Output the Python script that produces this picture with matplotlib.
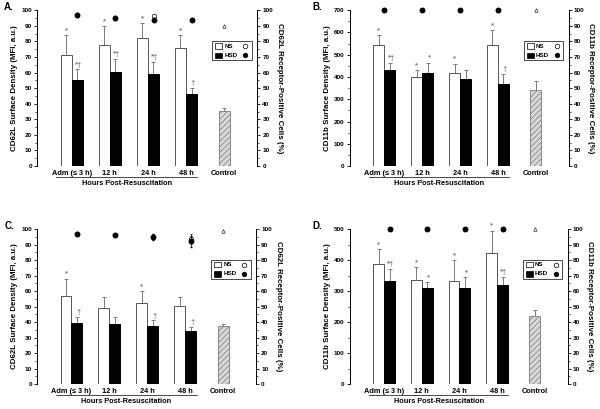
import matplotlib
matplotlib.use("Agg")
import matplotlib.pyplot as plt
from matplotlib.patches import Rectangle
from matplotlib.lines import Line2D
from matplotlib.ticker import MultipleLocator
import numpy as np

plt.rcParams['font.family'] = ['Liberation Sans', 'DejaVu Sans']
plt.rcParams['font.weight'] = 'bold'
plt.rcParams['hatch.color'] = '#777777'
plt.rcParams['hatch.linewidth'] = 0.6

groups = ["Adm (\u2264 3 h)", "12 h", "24 h", "48 h", "Control"]
xlabel = "Hours Post-Resuscitation"

# Panel A
A_ns = [71.5, 78, 82, 76]
A_ns_err = [12.5, 12, 10, 8]
A_hsd = [55, 60.5, 59, 46]
A_hsd_err = [7, 8.5, 8, 4]
A_ctrl = 35.5
A_ctrl_err = 1.5
A_ns_pct = [97, 95, 96, 94]
A_ns_pct_err = [1, 1, 1, 1]
A_hsd_pct = [97, 95, 94, 94]
A_hsd_pct_err = [1.5, 1, 1, 1]
A_ctrl_pct = 90
A_ns_sig = ["*", "*", "*", "*"]
A_hsd_sig = ["*\u2020", "*\u2020", "*\u2020", "\u2020"]

# Panel B
B_ns = [543, 398, 420, 543]
B_ns_err = [47, 32, 40, 67]
B_hsd = [433, 420, 392, 368]
B_hsd_err = [32, 45, 38, 47]
B_ctrl = 340
B_ctrl_err = 40
B_ns_pct = [100, 100, 100, 100]
B_ns_pct_err = [0, 0, 0, 0]
B_hsd_pct = [100, 100, 100, 100]
B_hsd_pct_err = [0, 0, 0, 0]
B_ctrl_pct = 100
B_ns_sig = ["*", "*", "*", "*"]
B_hsd_sig = ["*\u2020", "*", "", "\u2020"]

# Panel C
C_ns = [57, 49, 52.5, 50.5]
C_ns_err = [11, 7, 7.5, 5.5]
C_hsd = [39.5, 38.5, 37.5, 34.5]
C_hsd_err = [4, 4.5, 3.5, 2.5]
C_ctrl = 37.5
C_ctrl_err = 1
C_ns_pct = [97, 96, 95, 93.5]
C_ns_pct_err = [0.8, 0.8, 1.5, 3]
C_hsd_pct = [97, 96, 95, 92]
C_hsd_pct_err = [0.8, 0.8, 2, 3.5]
C_ctrl_pct = 99
C_ns_sig = ["*", "", "*", ""]
C_hsd_sig = ["\u2020", "", "\u2020", "\u2020"]

# Panel D
D_ns = [388, 337, 331, 423]
D_ns_err = [47, 41, 69, 72]
D_hsd = [334, 310, 311, 319]
D_hsd_err = [38, 20, 34, 26]
D_ctrl = 221
D_ctrl_err = 19
D_ns_pct = [100, 100, 100, 100]
D_ns_pct_err = [0, 0, 0, 0]
D_hsd_pct = [100, 100, 100, 100]
D_hsd_pct_err = [0, 0, 0, 0]
D_ctrl_pct = 100
D_ns_sig = ["*", "*", "*", "*"]
D_hsd_sig = ["*\u2020", "*", "*", "*\u2020"]

fig = plt.figure(figsize=(6.0, 4.09), dpi=100)

TICK_FS = 4.6
LAB_FS = 5.7
W = 0.29
GRAY = '#7a7a7a'


def panel(rect, letter, ymax, ymajor, yminor, ylab, rlab,
          ns, ns_err, hsd, hsd_err, ctrl, ctrl_err,
          ns_pct, ns_pct_err, hsd_pct, hsd_pct_err, ctrl_pct,
          ns_sig, hsd_sig, dot_off, letter_x):
    ax = fig.add_axes(rect)
    x = np.arange(4)
    ax.bar(x - W / 2, ns, W, color='white', edgecolor='#555555', lw=0.7, zorder=2)
    ax.bar(x + W / 2, hsd, W, color='black', edgecolor='black', lw=0.7, zorder=2)
    ax.bar([4], [ctrl], W, color='#d9d9d9', edgecolor='#888888', hatch='//////', lw=0.7, zorder=2)
    ek = dict(fmt='none', ecolor=GRAY, elinewidth=0.7, capsize=1.2, capthick=0.7, zorder=1)
    ax.errorbar(x - W / 2, ns, yerr=[np.zeros(4), ns_err], **ek)
    ax.errorbar(x + W / 2, hsd, yerr=[np.zeros(4), hsd_err], **ek)
    ax.errorbar([4], [ctrl], yerr=[[0], [ctrl_err]], **ek)
    pad = ymax * 0.006
    for i in range(4):
        if ns_sig[i]:
            ax.text(x[i] - W / 2, ns[i] + ns_err[i] + pad, ns_sig[i], ha='center', va='bottom',
                    fontsize=5.6, color=GRAY)
        if hsd_sig[i]:
            ax.text(x[i] + W / 2 + 0.04, hsd[i] + hsd_err[i] + pad, hsd_sig[i], ha='center', va='bottom',
                    fontsize=5.6, color=GRAY)
    ax.set_xlim(-0.91, 4.87)
    ax.set_ylim(0, ymax)
    ax.yaxis.set_major_locator(MultipleLocator(ymajor))
    ax.yaxis.set_minor_locator(MultipleLocator(yminor))
    ax.tick_params(axis='y', which='major', labelsize=TICK_FS, length=2.2, width=0.6, pad=1.5)
    ax.tick_params(axis='y', which='minor', length=1.2, width=0.5)
    ax.set_xticks(range(5))
    ax.set_xticklabels(groups, fontsize=5.3, fontweight='bold')
    ax.tick_params(axis='x', length=0, pad=2.5)
    for s in ['top', 'bottom']:
        ax.spines[s].set_visible(False)
    ax.spines['left'].set_linewidth(0.7)
    ax.spines['right'].set_visible(False)
    ax.set_ylabel(ylab, fontsize=LAB_FS, fontweight='bold', labelpad=2)
    # right axis
    ax2 = ax.twinx()
    ax2.set_ylim(0, 100)
    ax2.yaxis.set_major_locator(MultipleLocator(10))
    ax2.yaxis.set_minor_locator(MultipleLocator(5))
    ax2.tick_params(axis='y', which='major', labelsize=TICK_FS, length=2.2, width=0.6, pad=1.5)
    ax2.tick_params(axis='y', which='minor', length=1.2, width=0.5)
    for s in ['top', 'bottom', 'left']:
        ax2.spines[s].set_visible(False)
    ax2.spines['right'].set_linewidth(0.7)
    ax2.set_ylabel(rlab, fontsize=LAB_FS, fontweight='bold', rotation=270, labelpad=7)
    xd = x + dot_off
    ax2.errorbar(xd, ns_pct, yerr=ns_pct_err, fmt='o', ms=3.2, mfc='white', mec='black',
                 mew=0.5, ecolor='black', elinewidth=0.5, capsize=1, clip_on=False, zorder=3)
    ax2.errorbar(xd, hsd_pct, yerr=hsd_pct_err, fmt='o', ms=3.2, mfc='black', mec='black',
                 ecolor='black', elinewidth=0.5, capsize=1, clip_on=False, zorder=4)
    ax2.plot([4], [ctrl_pct], marker='^', ms=2.5, mfc='white', mec='black', mew=0.4,
             ls='none', clip_on=False)
    ax2.set_xlim(-0.91, 4.87)
    # group bracket line
    ax.plot([-0.41, 3.3], [-0.07, -0.07], transform=ax.get_xaxis_transform(), color='black',
            lw=0.5, clip_on=False)
    ax.text(1.45, -0.115, xlabel, transform=ax.get_xaxis_transform(), ha='center', va='center',
            fontsize=5.3, fontweight='bold')
    # panel letter
    ax.text(letter_x, 1.02, letter, transform=ax.transAxes, fontsize=7, fontweight='bold',
            ha='left', va='center')
    # legend (manual)
    lx0, lx1, ly0, ly1 = 0.795, 0.975, 0.68, 0.80
    ax2.add_patch(Rectangle((lx0, ly0), lx1 - lx0, ly1 - ly0, transform=ax2.transAxes,
                            facecolor='white', edgecolor='black', lw=0.5, zorder=5, clip_on=False))
    for row, (fc, lab, mfc) in enumerate([('white', 'NS', 'white'), ('black', 'HSD', 'black')]):
        yy = ly1 - 0.03 - row * 0.06
        ax2.add_patch(Rectangle((lx0 + 0.015, yy - 0.018), 0.03, 0.036, transform=ax2.transAxes,
                                facecolor=fc, edgecolor='black', lw=0.5, zorder=6, clip_on=False))
        ax2.text(lx0 + 0.055, yy, lab, transform=ax2.transAxes, fontsize=4.5, fontweight='bold',
                 va='center', ha='left', zorder=6)
        ax2.add_line(Line2D([lx1 - 0.03], [yy], transform=ax2.transAxes, marker='o', ms=3.3,
                            mfc=mfc, mec='black', mew=0.5, zorder=6, clip_on=False))
    return ax


panel([0.0617, 0.594, 0.367, 0.381], "A.", 100, 10, 5,
      "CD62L Surface Density (MFI, a.u.)", "CD62L Receptor-Positive Cells (%)",
      A_ns, A_ns_err, A_hsd, A_hsd_err, A_ctrl, A_ctrl_err,
      A_ns_pct, A_ns_pct_err, A_hsd_pct, A_hsd_pct_err, A_ctrl_pct,
      A_ns_sig, A_hsd_sig, 0.15, -0.15)
panel([0.583, 0.594, 0.365, 0.381], "B.", 700, 100, 50,
      "CD11b Surface Density (MFI, a.u.)", "CD11b Receptor-Positive Cells (%)",
      B_ns, B_ns_err, B_hsd, B_hsd_err, B_ctrl, B_ctrl_err,
      B_ns_pct, B_ns_pct_err, B_hsd_pct, B_hsd_pct_err, B_ctrl_pct,
      B_ns_sig, B_hsd_sig, 0.0, -0.17)
panel([0.0617, 0.061, 0.365, 0.379], "C.", 100, 10, 5,
      "CD62L Surface Density (MFI, a.u.)", "CD62L Receptor-Positive Cells (%)",
      C_ns, C_ns_err, C_hsd, C_hsd_err, C_ctrl, C_ctrl_err,
      C_ns_pct, C_ns_pct_err, C_hsd_pct, C_hsd_pct_err, C_ctrl_pct,
      C_ns_sig, C_hsd_sig, 0.15, -0.15)
panel([0.583, 0.061, 0.363, 0.379], "D.", 500, 100, 50,
      "CD11b Surface Density (MFI, a.u.)", "CD11b Receptor-Positive Cells (%)",
      D_ns, D_ns_err, D_hsd, D_hsd_err, D_ctrl, D_ctrl_err,
      D_ns_pct, D_ns_pct_err, D_hsd_pct, D_hsd_pct_err, D_ctrl_pct,
      D_ns_sig, D_hsd_sig, 0.15, -0.17)

fig.savefig("out.png", dpi=100)
